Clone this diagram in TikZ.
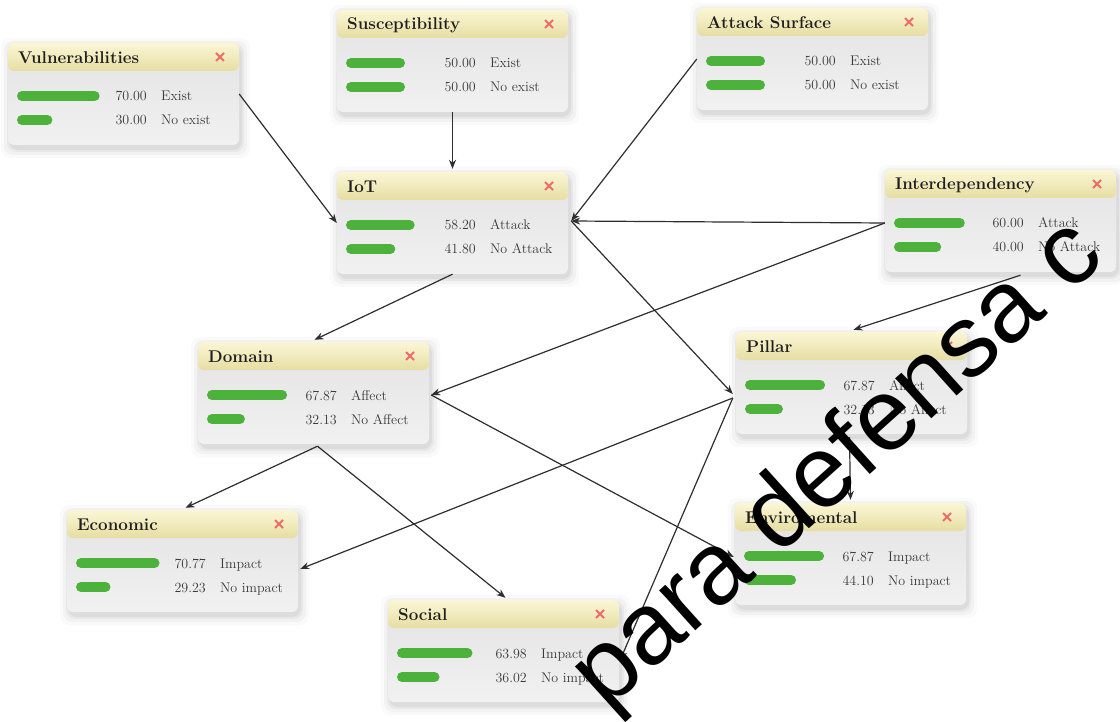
\documentclass[tikz,border=0pt]{standalone}
\usepackage{fontspec}
\usetikzlibrary{calc,arrows.meta}
\newfontfamily\wmfont{Liberation Sans}

\definecolor{bargreen}{HTML}{4DB23B}
\definecolor{hdrtop}{HTML}{FBF7D6}
\definecolor{hdrbot}{HTML}{E6DDA2}
\definecolor{bodytop}{HTML}{E3E3E3}
\definecolor{bodybot}{HTML}{F1F1F1}
\definecolor{closered}{HTML}{EE6B6B}
\definecolor{txtgrey}{HTML}{3A3A3A}
\definecolor{linkgrey}{HTML}{2E2E2E}

\tikzset{
  boxnode/.style={draw=none, minimum width=231pt, minimum height=102pt, inner sep=0pt},
  titletext/.style={anchor=west, inner sep=0pt, text=black!88, font=\fontsize{17}{20}\selectfont\bfseries},
  valtext/.style={anchor=base east, inner sep=0pt, text=txtgrey, font=\fontsize{14}{16}\selectfont},
  labtext/.style={anchor=base west, inner sep=0pt, text=txtgrey, font=\fontsize{14}{16}\selectfont},
  probbar/.style={draw=bargreen, line width=10pt, line cap=round},
  closemark/.style={draw=closered, line width=1.9pt},
  link/.style={draw=linkgrey, line width=1.2pt, -{Stealth[length=9pt,width=7pt]}},
  watermark/.style={anchor=base west, inner sep=0pt, text=black, font=\wmfont\fontsize{102}{110}\selectfont},
}

% #1 name, #2 left, #3 top, #4 title, #5 value 1, #6 state 1, #7 value 2, #8 state 2
\newcommand\netbox[8]{%
  \foreach \s/\o in {9/0.02,6/0.03,3/0.04,1/0.05}{
    \fill[black, opacity=\o, rounded corners=9pt]
      (#2-\s+2,#3-\s+4) rectangle (#2+231+\s+2,#3+102+\s+4);
  }
  \shade[top color=bodytop, bottom color=bodybot, rounded corners=6pt]
    (#2,#3) rectangle (#2+231,#3+102);
  \shade[top color=hdrtop, bottom color=hdrbot, rounded corners=6pt]
    (#2,#3) rectangle (#2+231,#3+28);
  \node[boxnode] (#1) at (#2+115.5,#3+51) {};
  \node[titletext] (#1-title) at (#2+10,#3+15) {#4};
  \draw[closemark] (#2+208,#3+10) -- (#2+216,#3+18) (#2+208,#3+18) -- (#2+216,#3+10);
  \draw[probbar] (#2+14,#3+53) -- ++({1.18*#5-10},0);
  \draw[probbar] (#2+14,#3+77) -- ++({1.18*#7-10},0);
  \node[valtext] (#1-v1) at (#2+139,#3+58) {#5};
  \node[labtext] (#1-s1) at (#2+153,#3+58) {#6};
  \node[valtext] (#1-v2) at (#2+139,#3+82) {#7};
  \node[labtext] (#1-s2) at (#2+153,#3+82) {#8};
}

\begin{document}
\begin{tikzpicture}[x=1pt,y=-1pt]
  \fill[white] (0,0) rectangle (1120,722);
  \useasboundingbox (0,0) rectangle (1120,722);

  \netbox{vul}{8}{43}{Vulnerabilities}{70.00}{Exist}{30.00}{No exist}
  \netbox{sus}{337}{10}{Susceptibility}{50.00}{Exist}{50.00}{No exist}
  \netbox{atk}{697}{8}{Attack Surface}{50.00}{Exist}{50.00}{No exist}
  \netbox{iot}{337}{172}{IoT}{58.20}{Attack}{41.80}{No Attack}
  \netbox{int}{885}{170}{Interdependency}{60.00}{Attack}{40.00}{No Attack}
  \netbox{dom}{198}{342}{Domain}{67.87}{Affect}{32.13}{No Affect}
  \netbox{pil}{736}{332}{Pillar}{67.87}{Affect}{32.13}{No Affect}
  \netbox{eco}{67}{510}{Economic}{70.77}{Impact}{29.23}{No impact}
  \netbox{env}{735}{503}{Enviromental}{67.87}{Impact}{44.10}{No impact}
  \netbox{soc}{388}{600}{Social}{63.98}{Impact}{36.02}{No impact}

  % junction points on the box edges
  \coordinate (iotin) at ($(iot.east)+(3,-2)$);
  \coordinate (pilin) at ($(pil.west)+(-3,11)$);
  \coordinate (pilout) at ($(pil.west)+(-3,15)$);
  \coordinate (intout) at ($(int.west)+(0,2)$);

  % links
  \draw[link] (vul.east) -- (iot.west);
  \draw[link] (sus.south) -- ($(iot.north)+(0,-3)$);
  \draw[link] (atk.west) -- (iotin);
  \draw[link] (intout) -- (iotin);
  \draw[link] (intout) -- ($(dom.east)+(2,2)$);
  \draw[link] ($(int.south)+(20,3)$) -- ($(pil.north)+(2,-2)$);
  \draw[link] (iotin) -- (pilin);
  \draw[link] (iot.south) -- ($(dom.north)+(1,-2)$);
  \draw[link] ($(dom.south)+(4,2)$) -- ($(eco.north)+(3,-2)$);
  \draw[link] ($(dom.south)+(4,2)$) -- ($(soc.north)+(2,-2)$);
  \draw[link] ($(dom.east)+(2,2)$) -- ($(env.west)+(-1,3)$);
  \draw[link] (pilout) -- ($(eco.east)+(2,8)$);
  \draw[link] (pilout) -- ($(soc.east)+(1,9)$);
  \draw[link] ($(pil.south)+(-2,3)$) -- ($(env.north)+(0,-3)$);

  % watermark
  \node[watermark, rotate=42] (mark) at (606,712) {para defensa c};
\end{tikzpicture}
\end{document}
